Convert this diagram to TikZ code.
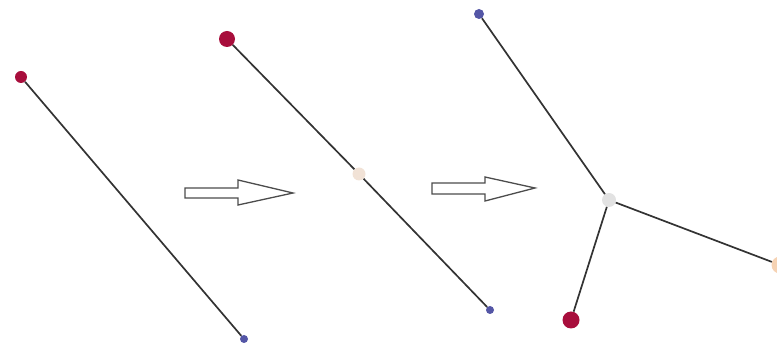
\documentclass[tikz,border=0pt]{standalone}
\usepackage{tikz}

\definecolor{bodred}{HTML}{A80E3C}
\definecolor{bodblue}{HTML}{5456A6}
\definecolor{bodbeige}{HTML}{F1E2D6}
\definecolor{bodgrey}{HTML}{E2E2E2}
\definecolor{bodorange}{HTML}{F6D3B4}

\tikzset{
  bod/.style={circle, inner sep=0pt, minimum size=#1},
  hrana/.style={line width=1.7pt, black!80},
  sipka/.style={line width=1.3pt, black!70, fill=white, line join=miter}
}

\begin{document}
\begin{tikzpicture}[x=1pt, y=-1pt]
        \useasboundingbox (0,0) rectangle (777,347);

        % Prvni usecka
        \node[bod=12pt, fill=bodred] (a1) at (21,77) {};
        \node[bod=8pt, fill=bodblue] (b1) at (244,339) {};
        \draw[hrana] (a1) -- (b1);

        % Sipka 1
        \draw[sipka] (185,188) -- (238,188) -- (238,180) -- (293,193)
              -- (238,205) -- (238,198) -- (185,198) -- cycle;

        % Druha usecka s bodem uprostred
        \node[bod=16pt, fill=bodred] (a2) at (227,39) {};
        \node[bod=13pt, fill=bodbeige] (s2) at (359,174) {};
        \node[bod=8pt, fill=bodblue] (b2) at (490,310) {};
        \draw[hrana] (a2) -- (s2);
        \draw[hrana] (s2) -- (b2);

        % Sipka 2
        \draw[sipka] (432,183) -- (485,183) -- (485,177) -- (535,188)
              -- (485,201) -- (485,194) -- (432,194) -- cycle;

        % Rozvetveni
        \node[bod=10pt, fill=bodblue] (a3) at (479,14) {};
        \node[bod=14pt, fill=bodgrey] (s3) at (609,200) {};
        \node[bod=17pt, fill=bodred] (c3) at (571,320) {};
        \node[bod=17pt, fill=bodorange] (d3) at (780,265) {};
        \draw[hrana] (a3) -- (s3);
        \draw[hrana] (s3) -- (c3);
        \draw[hrana] (s3) -- (d3);
    \end{tikzpicture}
\end{document}
